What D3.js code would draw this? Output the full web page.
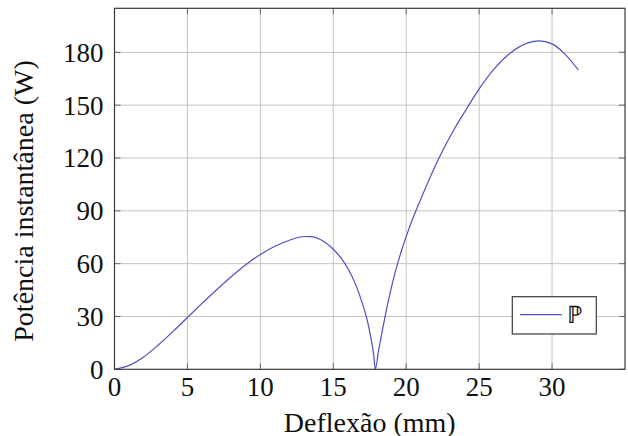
<!DOCTYPE html>
<html>
<head>
<meta charset="utf-8">
<script src="https://cdn.jsdelivr.net/npm/d3@7"></script>
</head>
<body style="margin:0">
<svg id="fig" width="628" height="436"></svg>
<script>
// Data
const deflexao = [0, 1, 2, 3, 4, 5, 6, 7, 8, 9, 10, 11, 12, 13, 13.5, 14, 14.5, 15, 15.5, 16, 16.5, 17, 17.3, 17.5, 17.65, 17.78, 17.88, 18.1, 18.33, 18.79, 19.25, 19.7, 20.16, 21.22, 22.25, 23.27, 24.19, 25.05, 26, 27.17, 28.3, 29.1, 30, 30.8, 31.8];
const potencia = [0, 2.2, 7.0, 13.8, 21.4, 29.4, 37.4, 45.2, 52.6, 59.4, 65.2, 69.9, 73.3, 75.4, 75.3, 74.1, 71.7, 68.2, 63.5, 57.2, 48.8, 37.3, 28.8, 21.3, 14.5, 7.5, 0, 10.5, 20.6, 39.4, 55.3, 68.0, 79.2, 101, 120, 136, 148.6, 159.8, 170.3, 179.8, 185.2, 186.5, 184.8, 179.7, 170];
const xTicks = [0, 5, 10, 15, 20, 25, 30];
const yTicks = [0, 30, 60, 90, 120, 150, 180];
const xLabel = "Deflexão (mm)";
const yLabel = "Potência instantânea (W)";
const legendLabel = "\u2119";

const svg = d3.select("#fig");
const L = 114.5, R = 625, T = 8.3, B = 369.3;
const x = d3.scaleLinear().domain([0, 35]).range([L, R]);
const y = d3.scaleLinear().domain([0, 205]).range([B, T]);

function txt(sel) {
  return sel.style("font-family", "'Liberation Serif'").attr("fill", "#111");
}

// Grid
svg.append("g").selectAll("line").data(xTicks.filter(d => d > 0)).join("line")
  .attr("x1", d => x(d)).attr("x2", d => x(d)).attr("y1", T).attr("y2", B)
  .attr("stroke", "#c4c4c4").attr("stroke-width", 1);
svg.append("g").selectAll("line").data(yTicks.filter(d => d > 0)).join("line")
  .attr("y1", d => y(d)).attr("y2", d => y(d)).attr("x1", L).attr("x2", R)
  .attr("stroke", "#c4c4c4").attr("stroke-width", 1);

// Tick marks (inside, all sides)
const tk = 6;
const tg = svg.append("g").attr("stroke", "#6a6a6a").attr("stroke-width", 1);
xTicks.forEach(d => {
  tg.append("line").attr("x1", x(d)).attr("x2", x(d)).attr("y1", B).attr("y2", B - tk);
  tg.append("line").attr("x1", x(d)).attr("x2", x(d)).attr("y1", T).attr("y2", T + tk);
});
yTicks.forEach(d => {
  tg.append("line").attr("y1", y(d)).attr("y2", y(d)).attr("x1", L).attr("x2", L + tk);
  tg.append("line").attr("y1", y(d)).attr("y2", y(d)).attr("x1", R).attr("x2", R - tk);
});

// Curve
const pts = deflexao.map((d, i) => [d, potencia[i]]);
svg.append("path").datum(pts)
  .attr("d", d3.line().x(d => x(d[0])).y(d => y(d[1])).curve(d3.curveMonotoneX))
  .attr("fill", "none").attr("stroke", "#5050c0").attr("stroke-width", 1.2);

// Frame
svg.append("rect").attr("x", L).attr("y", T).attr("width", R - L).attr("height", B - T)
  .attr("fill", "none").attr("stroke", "#3a3a3a").attr("stroke-width", 1.2);

// Tick labels
svg.append("g").selectAll("text").data(xTicks).join("text")
  .attr("x", d => x(d)).attr("y", 396).attr("text-anchor", "middle")
  .attr("font-size", 27).call(txt).text(d => d);
svg.append("g").selectAll("text").data(yTicks).join("text")
  .attr("x", 103.5).attr("y", d => y(d)).attr("dy", "0.35em").attr("text-anchor", "end")
  .attr("font-size", 27).call(txt).text(d => d);

// Axis labels
svg.append("text").attr("x", (L + R) / 2).attr("y", 431.5).attr("text-anchor", "middle")
  .attr("font-size", 28).call(txt).text(xLabel);
svg.append("text").attr("transform", "translate(33,201) rotate(-90)").attr("text-anchor", "middle")
  .attr("font-size", 28).call(txt).text(yLabel);

// Legend
const lg = svg.append("g");
lg.append("rect").attr("x", 512.3).attr("y", 296.7).attr("width", 84).attr("height", 37.3)
  .attr("fill", "#fff").attr("stroke", "#3a3a3a").attr("stroke-width", 1.2);
lg.append("line").attr("x1", 520).attr("x2", 561.7).attr("y1", 314.7).attr("y2", 314.7)
  .attr("stroke", "#5050c0").attr("stroke-width", 1.2);
lg.append("text").attr("x", 567).attr("y", 322.5).attr("font-size", 24)
  .call(txt).text(legendLabel);
</script>
</body>
</html>
